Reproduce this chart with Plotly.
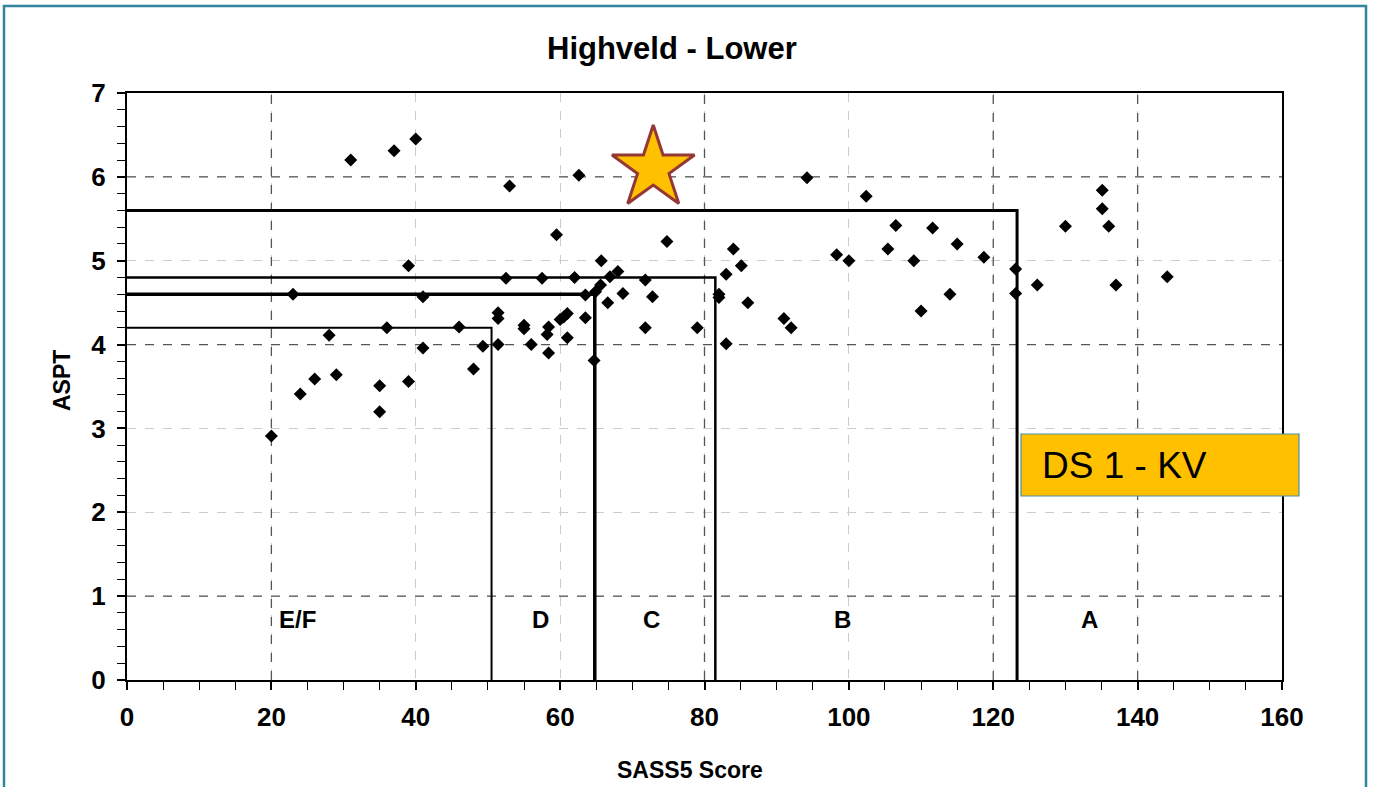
import plotly.graph_objects as go

# SASS5 score / ASPT pairs for the Highveld - Lower reference sites
sass_score = [20, 23, 24, 26, 28, 29, 31, 35, 35, 36, 37, 39, 39, 40, 41, 41,
              46, 48, 49.3, 51.4, 51.4, 51.4, 52.5, 53, 55, 55, 56, 57.5, 58.4,
              58.2, 58.4, 59.5, 60, 60.5, 61, 61, 62, 62.6, 63.5, 63.5, 64.7,
              64.9, 65.6, 65.7, 66.6, 66.9, 68, 68.7, 71.8, 71.8, 72.8, 74.8,
              79, 82, 82, 83, 83, 84, 85.1, 86, 91, 92, 94.2, 98.3, 100, 102.4,
              105.4, 106.5, 109, 110, 111.6, 114, 115, 118.7, 123.1, 123.1,
              126.1, 130, 135.1, 135.1, 136, 137, 144.1]
aspt = [2.91, 4.60, 3.41, 3.59, 4.11, 3.64, 6.20, 3.51, 3.20, 4.20, 6.31, 4.94,
        3.56, 6.45, 4.57, 3.96, 4.21, 3.71, 3.98, 4.38, 4.31, 4.00, 4.79, 5.89,
        4.23, 4.19, 4.00, 4.79, 4.21, 4.12, 3.90, 5.31, 4.30, 4.33, 4.37, 4.08,
        4.80, 6.02, 4.59, 4.32, 3.81, 4.63, 4.71, 5.00, 4.50, 4.81, 4.87, 4.61,
        4.77, 4.20, 4.57, 5.23, 4.20, 4.60, 4.56, 4.84, 4.01, 5.14, 4.94, 4.50,
        4.31, 4.20, 5.99, 5.07, 5.00, 5.77, 5.14, 5.42, 5.00, 4.40, 5.39, 4.60,
        5.20, 5.04, 4.90, 4.61, 4.71, 5.41, 5.84, 5.62, 5.41, 4.71, 4.81]

# Ecological category boundaries (SASS5 score limit, ASPT limit)
class_sass_limits = [50.5, 64.8, 81.5, 123.3]
class_aspt_limits = [4.2, 4.6, 4.8, 5.6]
class_line_widths = [2, 3.5, 2.5, 3]

# Category labels along the bottom of the chart
class_labels = ["E/F", "D", "C", "B", "A"]
class_label_x = [23.6, 57.3, 72.6, 99.1, 133.3]
class_label_y = 0.72

# Monitoring site
site_name = "DS 1 - KV"
site_sass = [72.9]
site_aspt = [6.1]

W, H = 1374, 787
ML, MR, MT, MB = 127, 92, 93, 107
PW, PH = W - ML - MR, H - MT - MB


def px(x):
    return (x - ML) / PW


def py(y):
    return (H - MB - y) / PH


FONT = "Liberation Sans, Arial, sans-serif"

fig = go.Figure()

# Category boxes
for s, a, w in zip(class_sass_limits, class_aspt_limits, class_line_widths):
    fig.add_trace(go.Scatter(
        x=[0, s, s], y=[a, a, 0], mode="lines",
        line=dict(color="black", width=w), hoverinfo="skip", showlegend=False))

# Reference sites
fig.add_trace(go.Scatter(
    x=sass_score, y=aspt, mode="markers",
    marker=dict(symbol="diamond", size=10, color="black"),
    showlegend=False))

# Site of interest
fig.add_trace(go.Scatter(
    x=site_sass, y=site_aspt, mode="markers",
    marker=dict(symbol="star", size=62, color="#FFC000",
                line=dict(color="#953735", width=3)),
    showlegend=False))

shapes = []
# darker dashed guide lines
for xv in [20, 80, 120, 140]:
    shapes.append(dict(type="line", xref="x", yref="y", x0=xv, x1=xv, y0=0, y1=7,
                       line=dict(color="#555555", width=1.3, dash="dash"),
                       layer="between"))
for yv in [1, 4, 6]:
    shapes.append(dict(type="line", xref="x", yref="y", x0=0, x1=160, y0=yv, y1=yv,
                       line=dict(color="#555555", width=1.3, dash="dash"),
                       layer="between"))

# label box for the site
shapes.append(dict(type="rect", xref="paper", yref="paper",
                   x0=px(1021), x1=px(1299), y0=py(496), y1=py(434),
                   fillcolor="#FFC000", line=dict(color="#4A8DB0", width=1.2),
                   layer="above"))
# frame around the whole figure
shapes.append(dict(type="rect", xref="paper", yref="paper",
                   x0=px(4), x1=px(1366), y0=py(810), y1=py(6),
                   fillcolor="rgba(0,0,0,0)", line=dict(color="#31859C", width=2.5),
                   layer="above"))

annotations = []
for lab, lx in zip(class_labels, class_label_x):
    annotations.append(dict(x=lx, y=class_label_y, xref="x", yref="y", text=lab,
                            showarrow=False, xanchor="center", yanchor="middle",
                            font=dict(family=FONT, size=24, color="black", weight="bold")))

annotations.append(dict(x=px(1040), y=py(466), xref="paper", yref="paper",
                        xanchor="left", yanchor="middle", text=site_name,
                        showarrow=False,
                        font=dict(family=FONT, size=37, color="black")))

# title and axis titles
annotations.append(dict(x=px(672), y=py(48), xref="paper", yref="paper",
                        xanchor="center", yanchor="middle",
                        text="Highveld - Lower", showarrow=False,
                        font=dict(family=FONT, size=31, color="black", weight="bold")))
annotations.append(dict(x=px(690), y=py(770), xref="paper", yref="paper",
                        xanchor="center", yanchor="middle",
                        text="SASS5 Score", showarrow=False,
                        font=dict(family=FONT, size=23, color="black", weight="bold")))
annotations.append(dict(x=px(62), y=py(381), xref="paper", yref="paper",
                        xanchor="center", yanchor="middle",
                        text="ASPT", showarrow=False, textangle=-90,
                        font=dict(family=FONT, size=23, color="black", weight="bold")))

tickfont = dict(family=FONT, size=26, color="black", weight="bold")

fig.update_layout(
    width=W, height=H,
    margin=dict(l=ML, r=MR, t=MT, b=MB),
    paper_bgcolor="white", plot_bgcolor="white",
    shapes=shapes, annotations=annotations,
    xaxis=dict(range=[0, 160], dtick=20, tick0=0, showline=True, mirror=True,
               linecolor="black", linewidth=2, ticks="outside", ticklen=8,
               tickwidth=1.5, tickcolor="black", zeroline=False,
               showgrid=True, gridcolor="#cccccc", griddash="dash", gridwidth=1,
               tickfont=tickfont, ticklabelstandoff=5,
               minor=dict(dtick=5, ticks="outside", ticklen=8, tickcolor="black",
                          tickwidth=1.2, showgrid=False)),
    yaxis=dict(range=[0, 7], dtick=1, tick0=0, showline=True, mirror=True,
               linecolor="black", linewidth=2, ticks="outside", ticklen=8,
               tickwidth=1.5, tickcolor="black", zeroline=False,
               showgrid=True, gridcolor="#cccccc", griddash="dash", gridwidth=1,
               tickfont=tickfont, ticklabelstandoff=6,
               minor=dict(dtick=0.2, ticks="outside", ticklen=8, tickcolor="black",
                          tickwidth=1.2, showgrid=False)),
)

fig.write_html("out.html")
